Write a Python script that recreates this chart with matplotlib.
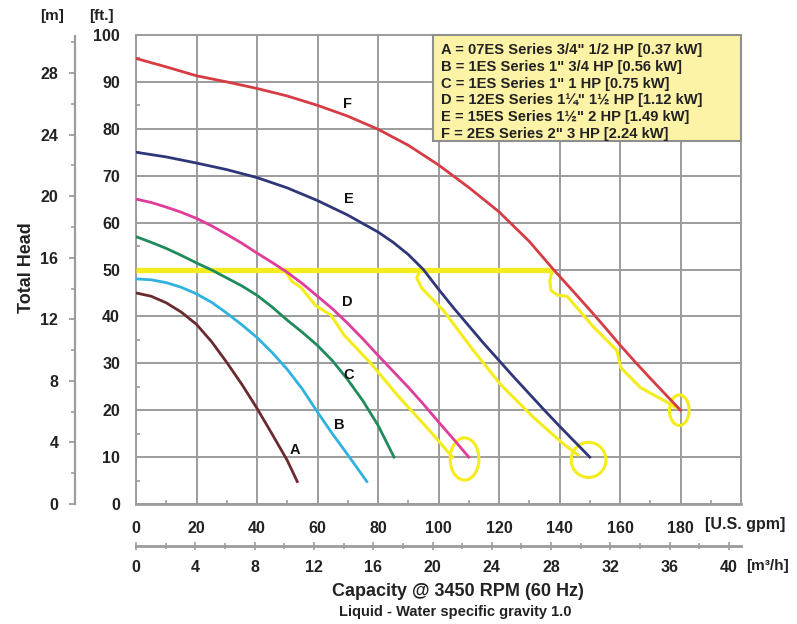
import matplotlib
matplotlib.use("Agg")
import matplotlib.pyplot as plt
from matplotlib.patches import Ellipse, Rectangle
from matplotlib.ticker import MultipleLocator

plt.rcParams['font.family'] = ['Liberation Sans', 'DejaVu Sans']
plt.rcParams['font.weight'] = 'bold'

# ---------------- data (gpm, ft) ----------------
a_gpm = [0, 5, 10, 15, 20, 25, 30, 35, 40, 45, 50, 53.3]
a_ft = [45, 44.3, 42.9, 40.9, 38.3, 34.6, 30.2, 25.5, 20.4, 14.9, 9.3, 4.8]
b_gpm = [0, 5, 10, 15, 20, 25, 30, 35, 40, 45, 50, 55, 60, 65, 70, 76.3]
b_ft = [48, 47.8, 47.2, 46.2, 44.8, 43, 40.7, 38.2, 35.5, 32.3, 28.7, 24.5, 19.6, 14.9, 10.5, 4.8]
c_gpm = [0, 5, 10, 15, 20, 25, 30, 35, 40, 45, 50, 55, 60, 65, 70, 75, 80, 85.3]
c_ft = [57, 55.8, 54.5, 53, 51.4, 49.9, 48.2, 46.5, 44.5, 42, 39.2, 36.6, 33.8, 30.5, 26.5, 22, 16.8, 10]
d_gpm = [0, 5, 10, 15, 20, 25, 30, 35, 40, 45, 50, 55, 60, 65, 70, 75, 80, 85, 90, 95, 100, 105, 110]
d_ft = [65, 64.3, 63.3, 62.2, 60.9, 59.3, 57.5, 55.6, 53.5, 51.5, 49.4, 47, 44.3, 41.6, 38.5, 35.2,
        31.7, 28.3, 24.9, 21.3, 17.5, 13.8, 10]
e_gpm = [0, 10, 20, 30, 40, 50, 60, 70, 80, 85, 90, 95, 100, 105, 110, 115, 120, 125, 130, 135,
         140, 145, 150]
e_ft = [75, 74, 72.7, 71.3, 69.6, 67.4, 64.7, 61.6, 58, 55.8, 53.2, 50, 45.8, 41.8, 38, 34.2, 30.6,
        27, 23.5, 20, 16.6, 13.3, 10]
f_gpm = [0, 10, 20, 30, 40, 50, 60, 70, 80, 90, 100, 110, 120, 130, 138, 145, 150, 155, 160, 165,
         170, 175, 180]
f_ft = [95, 93.2, 91.3, 90, 88.6, 87, 85, 82.7, 79.9, 76.5, 72.3, 67.5, 62.3, 56, 50, 45, 41.4,
        37.7, 33.9, 30.3, 26.8, 23.4, 20]

curve_names = ['A', 'B', 'C', 'D', 'E', 'F']
curve_colors = ['#6b2b2e', '#2fb2df', '#1f8a5c', '#df3c9b', '#2f3679', '#d63c43']
label_gpm = [52.6, 67.2, 70.4, 69.7, 70.5, 70]
label_ft = [11.6, 16.8, 27.6, 43.1, 65.1, 85.3]

legend_lines = [
    'A = 07ES Series 3/4" 1/2 HP [0.37 kW]',
    'B = 1ES Series 1" 3/4 HP [0.56 kW]',
    'C = 1ES Series 1" 1 HP [0.75 kW]',
    'D = 12ES Series 1\u00bc" 1\u00bd HP [1.12 kW]',
    'E = 15ES Series 1\u00bd" 2 HP [1.49 kW]',
    'F = 2ES Series 2" 3 HP [2.24 kW]',
]

gpm_ticks = [0, 20, 40, 60, 80, 100, 120, 140, 160, 180]
m3h_ticks = [0, 4, 8, 12, 16, 20, 24, 28, 32, 36, 40]
ft_ticks = [0, 10, 20, 30, 40, 50, 60, 70, 80, 90, 100]
m_ticks = [0, 4, 8, 12, 16, 20, 24, 28]

# yellow hand-drawn annotations
hl_level = 50
hl_gpm = [0, 138]
yd_gpm = [49, 51.5, 54.5, 59.4, 64.4, 68.8, 77.6, 86.4, 97.4, 104.6]
yd_ft = [50, 47.5, 46.2, 42.3, 40.3, 36, 30, 23.2, 15.4, 10]
ye_gpm = [94, 92.8, 94.5, 101.7, 111.7, 120.5, 131.5, 141.5, 146]
ye_ft = [50, 48.2, 46, 41.2, 32.6, 25.5, 18.4, 12.7, 10.5]
yf_gpm = [137.6, 136.8, 137.2, 139.5, 142.5, 151.3, 159, 160.2, 166.8, 176.7, 178.5]
yf_ft = [50, 47.5, 45.5, 44.5, 44.3, 37.7, 32.7, 29.1, 24.8, 21.3, 20.5]
circ_gpm = [108.6, 149.6, 179.6]
circ_ft = [9.6, 9.4, 20.0]
circ_w = [9.5, 11.5, 6.5]
circ_h = [9.0, 7.5, 6.5]

W, H = 797, 624
fig = plt.figure(figsize=(W / 100, H / 100), dpi=100)
fig.patch.set_facecolor('white')

def fx(px):
    return px / W

def fy(py):
    return 1 - py / H

L, R, T, B = 136, 741, 35, 504
ax = fig.add_axes([fx(L), fy(B), fx(R - L), (B - T) / H])
ax.set_xlim(0, 200)
ax.set_ylim(0, 100)
gridc = '#9c9c9c'
ax.set_xticks(gpm_ticks + [200])
ax.set_xticklabels([str(t) for t in gpm_ticks] + [''])
ax.set_yticks(ft_ticks)
ax.set_yticklabels([str(t) for t in ft_ticks])
ax.xaxis.set_minor_locator(MultipleLocator(10))
ax.yaxis.set_minor_locator(MultipleLocator(5))
ax.grid(True, which='major', color=gridc, lw=1.4)
ax.tick_params(axis='both', which='major', length=0, labelsize=11.5, colors='#222222')
ax.tick_params(axis='x', which='major', pad=12)
ax.tick_params(axis='y', which='major', pad=11.5)
ax.tick_params(axis='both', which='minor', length=3, direction='in', color=gridc, width=1.2)
for t in ax.get_xticklabels() + ax.get_yticklabels():
    t.set_fontweight('bold')
for s in ax.spines.values():
    s.set_color(gridc)
    s.set_linewidth(1.4)
ax.spines['bottom'].set_linewidth(2)
ax.set_axisbelow(True)

# yellow annotations (under curves)
yel = '#f4ec1c'
ax.plot(hl_gpm, [hl_level, hl_level], color=yel, lw=3.8, solid_capstyle='butt', zorder=3, clip_on=False)
for xs, ys in [(yd_gpm, yd_ft), (ye_gpm, ye_ft), (yf_gpm, yf_ft)]:
    ax.plot(xs, ys, color=yel, lw=2.2, zorder=3, solid_joinstyle='round')
for cx, cy, w, h in zip(circ_gpm, circ_ft, circ_w, circ_h):
    ax.add_patch(Ellipse((cx, cy), w, h, fill=False, ec=yel, lw=2.2, zorder=3))

for xs, ys, col in [(a_gpm, a_ft, curve_colors[0]), (b_gpm, b_ft, curve_colors[1]),
                    (c_gpm, c_ft, curve_colors[2]), (d_gpm, d_ft, curve_colors[3]),
                    (e_gpm, e_ft, curve_colors[4]), (f_gpm, f_ft, curve_colors[5])]:
    ax.plot(xs, ys, color=col, lw=2.0, zorder=4, solid_joinstyle='round')

for name, gx, gy in zip(curve_names, label_gpm, label_ft):
    ax.text(gx, gy, name, fontsize=10.5, fontweight='bold', color='#111111',
            ha='center', va='center', zorder=5)

# m3/h axis
ax2 = fig.add_axes([fx(L), fy(546), fx(R - L), 0.0001])
ax2.set_xlim(0, 40 * (R - L) / (729 - L))
ax2.set_ylim(0, 1)
ax2.set_yticks([])
for k in ['top', 'left', 'right']:
    ax2.spines[k].set_visible(False)
ax2.spines['bottom'].set_color(gridc)
ax2.spines['bottom'].set_linewidth(2)
ax2.set_xticks(m3h_ticks)
ax2.set_xticklabels([str(t) for t in m3h_ticks])
ax2.xaxis.set_minor_locator(MultipleLocator(2))
ax2.tick_params(axis='x', which='major', direction='inout', length=6, width=1.2,
                color=gridc, labelsize=11.5, labelcolor='#222222', pad=7)
ax2.tick_params(axis='x', which='minor', direction='inout', length=4, width=1.2, color=gridc)
ax2.patch.set_visible(False)

# m axis
axm = fig.add_axes([fx(75), fy(B), 0.0001, (B - T) / H])
axm.set_ylim(0, 100 / 3.2808)
axm.set_xticks([])
for k in ['top', 'bottom', 'right']:
    axm.spines[k].set_visible(False)
axm.spines['left'].set_color(gridc)
axm.spines['left'].set_linewidth(1.6)
axm.spines['left'].set_bounds(0, 30.4)
axm.set_yticks(m_ticks)
axm.set_yticklabels([str(t) for t in m_ticks])
axm.yaxis.set_minor_locator(MultipleLocator(2))
axm.tick_params(axis='y', which='major', direction='out', length=4, width=1.3,
                color=gridc, labelsize=11.5, labelcolor='#222222', pad=8)
axm.tick_params(axis='y', which='minor', direction='out', length=3, width=1.2, color=gridc)
axm.patch.set_visible(False)

# labels
fig.text(fx(52), fy(16), '[m]', fontsize=11, fontweight='bold', ha='center', va='center', color='#222222')
fig.text(fx(101), fy(16), '[ft.]', fontsize=11, fontweight='bold', ha='center', va='center', color='#222222')
fig.text(fx(27), fy(268), 'Total Head', fontsize=13, fontweight='bold', rotation=90,
         ha='center', va='center', color='#222222')
fig.text(fx(705), fy(525), '[U.S. gpm]', fontsize=11.5, fontweight='bold', ha='left', va='center', color='#222222')
fig.text(fx(746), fy(566), '[m\u00b3/h]', fontsize=11, fontweight='bold', ha='left', va='center', color='#222222')
fig.text(fx(458), fy(592), 'Capacity @ 3450 RPM (60 Hz)', fontsize=13, fontweight='bold',
         ha='center', va='center', color='#222222')
fig.text(fx(455), fy(612), 'Liquid - Water specific gravity 1.0', fontsize=10.5, fontweight='bold',
         ha='center', va='center', color='#222222')

# legend box
fig.patches.append(Rectangle((fx(433), fy(141)), fx(741 - 433), (141 - 35) / H,
                             transform=fig.transFigure, facecolor='#fdf3a6',
                             edgecolor='#8f8f8f', lw=1.5, zorder=10))
for i, line in enumerate(legend_lines):
    fig.text(fx(441), fy(50 + i * 16.8), line, fontsize=10.6, fontweight='bold',
             ha='left', va='center', color='#222222', zorder=11)

fig.savefig('out.png', dpi=100)
